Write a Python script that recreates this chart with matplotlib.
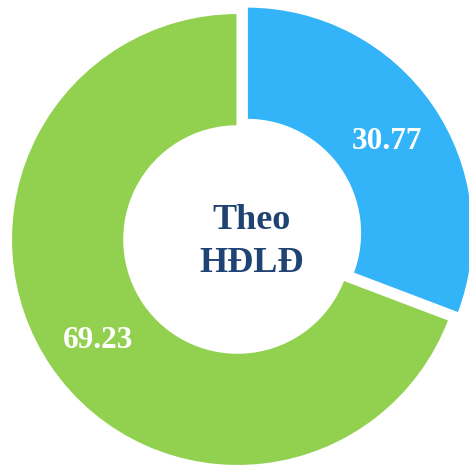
import matplotlib.pyplot as plt

# data
categories = ["Blue", "Green"]
values = [30.77, 69.23]
colors = ["#33B4F8", "#92D050"]
center_label = "Theo\nHĐLĐ"

plt.rcParams["font.family"] = ["Liberation Serif", "DejaVu Serif"]

fig = plt.figure(figsize=(4.69, 4.68), dpi=100)
ax = fig.add_axes([0, 0, 1, 1])

wedges, texts, autotexts = ax.pie(
    values,
    colors=colors,
    startangle=90,
    counterclock=False,
    explode=(0.05, 0),
    radius=1.0,
    pctdistance=0.75,
    autopct=lambda p: f"{p:.2f}",
    wedgeprops=dict(width=0.5, edgecolor="white", linewidth=1.5),
    textprops=dict(color="white", fontsize=22.5, fontweight="bold"),
)

# labels sit a touch lower in the original
for t in autotexts:
    x, y = t.get_position()
    t.set_position((x, y - 0.022))

# centre text sits a little right of the hole centre
ax.text(0.062, -0.01, center_label, ha="center", va="center", fontsize=26,
        fontweight="bold", color="#1F4372", linespacing=1.4)

ax.set_aspect("auto")
ax.set_xlim(-1.0486, 1.0221)
ax.set_ylim(-1.0088, 1.0574)
ax.axis("off")

fig.savefig("out.png", dpi=100)
